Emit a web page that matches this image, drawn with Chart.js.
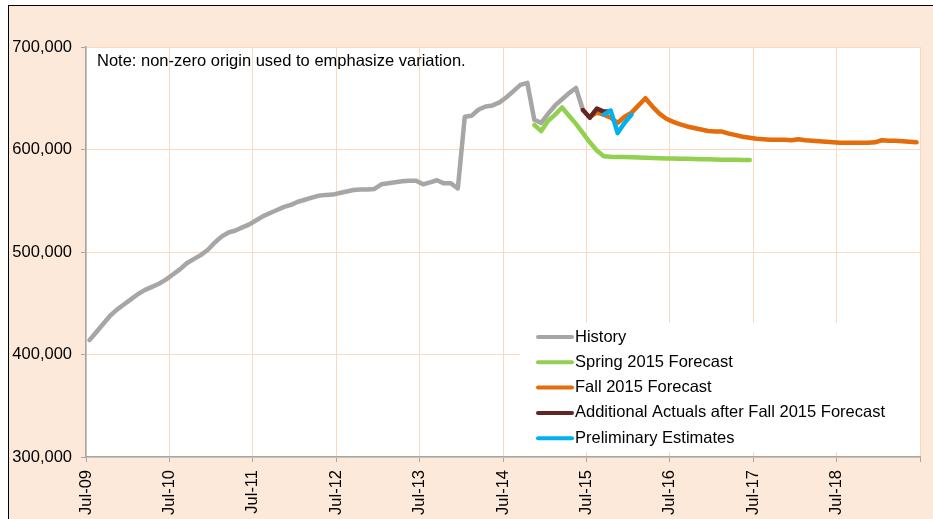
<!DOCTYPE html>
<html>
<head>
<meta charset="utf-8">
<script src="https://cdn.jsdelivr.net/npm/chart.js@4/dist/chart.umd.min.js"></script>
<style>
  html, body { margin: 0; padding: 0; background: #fff; }
  #wrap { position: relative; width: 933px; height: 519px; overflow: hidden; background: #fff; }
  #frame { position: absolute; left: 8px; top: 5px; right: 0; bottom: 0;
           background: #fde9d9; border-left: 1px solid #000; border-top: 1px solid #000; }
  #chart { position: absolute; left: 0; top: 0; }
</style>
</head>
<body>
<div id="wrap">
  <div id="frame"></div>
  <canvas id="chart" width="933" height="519"></canvas>
</div>
<script>
// months counted from Jul-09 (0 = Jul-09)
const xTickLabels = ['Jul-09', 'Jul-10', 'Jul-11', 'Jul-12', 'Jul-13', 'Jul-14', 'Jul-15', 'Jul-16', 'Jul-17', 'Jul-18'];
const yTicks = [300000, 400000, 500000, 600000, 700000];

const seriesNames = ['History', 'Spring 2015 Forecast', 'Fall 2015 Forecast',
    'Additional Actuals after Fall 2015 Forecast', 'Preliminary Estimates'];

// History: Jul-09 .. Jun-15
const historyStart = 0;
const history = [
    414000, 422000, 430000, 438000, 444000, 449000, 454000, 459000, 463000, 466000,
    469000, 473000, 478000, 483000, 489000, 493000, 497000, 502000, 509000, 515000,
    519000, 521000, 524000, 527000, 531000, 535000, 538000, 541000, 544000, 546000,
    549000, 551000, 553000, 555000, 555500, 556000, 557500, 559000, 560500, 561000,
    561000, 561500, 566000, 567000, 568000, 569000, 569500, 569500, 566000, 568000,
    570000, 567000, 567000, 562000, 632000, 633000, 639000, 642000, 643000, 646000,
    651000, 657000, 663000, 665000, 629000, 626000, 635000, 643000, 649000, 655000,
    660000, 638500
];

// Spring 2015 Forecast: Nov-14 .. Jun-17
const springStart = 64;
const spring = [
    624000, 618000, 628000, 634000, 641000, 633000, 625000, 616000, 607000, 599000,
    593500, 593000, 592800, 592600, 592400, 592200, 592000, 591800, 591500, 591300,
    591200, 591000, 590900, 590700, 590500, 590400, 590300, 590100, 590000, 589900,
    589800, 589700
];

// Fall 2015 Forecast: Jul-15 .. Jun-19
const fallStart = 72;
const fall = [
    632000, 636000, 634000, 631000, 626000, 632000, 636000, 643000, 650000, 642000,
    635000, 630000, 627000, 624500, 622500, 621000, 619500, 618000, 617500, 617500,
    615500, 614000, 612500, 611500, 610500, 610000, 609500, 609500, 609500, 609000,
    610000, 609000, 608500, 608000, 607500, 607000, 606500, 606500, 606500, 606500,
    606500, 607000, 609000, 608500, 608500, 608000, 607500, 607000
];

// Additional actuals: Jun-15 .. Oct-15
const actualsStart = 71;
const actuals = [638500, 631000, 640000, 637000, 637000];

// Preliminary estimates: Sep-15 .. Jan-16
const prelimStart = 74;
const prelim = [634000, 638000, 616000, 626000, 634000];

const colors = ['#a6a6a6', '#92d050', '#e46c0a', '#632523', '#00b0f0'];

function toPoints(start, values) {
    return values.map(function(v, i) {
        return { x: start + i + 0.5, y: v };
    });
}

const fontFamily = '"Liberation Sans", Arial, sans-serif';
const fontSize = 16.5;

const frameArea = {
    id: 'frameArea',
    beforeDraw: function(chart) {
        const a = chart.chartArea;
        const ctx = chart.ctx;
        ctx.save();
        ctx.fillStyle = '#ffffff';
        ctx.fillRect(a.left, a.top, a.right - a.left, a.bottom - a.top);
        ctx.restore();
    }
};

// note text and the boxed legend inside the plot
const notesAndLegend = {
    id: 'notesAndLegend',
    afterDraw: function(chart) {
        const a = chart.chartArea;
        const ctx = chart.ctx;
        ctx.save();
        ctx.font = fontSize + 'px ' + fontFamily;
        ctx.fillStyle = '#000';
        ctx.textBaseline = 'middle';
        ctx.fillText('Note: non-zero origin used to emphasize variation.', a.left + 11, a.top + 14);

        ctx.fillStyle = '#ffffff';
        ctx.fillRect(520, 323, a.right - 520, 129);

        chart.data.datasets.forEach(function(ds, i) {
            const y = 337 + i * 25.3;
            ctx.strokeStyle = ds.borderColor;
            ctx.lineWidth = 4;
            ctx.lineCap = 'round';
            ctx.beginPath();
            ctx.moveTo(538, y);
            ctx.lineTo(572, y);
            ctx.stroke();
            ctx.fillStyle = '#000';
            ctx.fillText(ds.label, 575, y);
        });
        ctx.restore();
    }
};

// later series sit on top, as in the original
function makeSet(i, start, values) {
    return {
        label: seriesNames[i],
        data: toPoints(start, values),
        order: seriesNames.length - i,
        borderColor: colors[i],
        backgroundColor: colors[i],
        borderWidth: 4.5,
        pointRadius: 0,
        tension: 0,
        fill: false,
        borderJoinStyle: 'round',
        borderCapStyle: 'round'
    };
}

new Chart(document.getElementById('chart').getContext('2d'), {
    type: 'line',
    data: {
        datasets: [
            makeSet(0, historyStart, history),
            makeSet(1, springStart, spring),
            makeSet(2, fallStart, fall),
            makeSet(3, actualsStart, actuals),
            makeSet(4, prelimStart, prelim)
        ]
    },
    options: {
        responsive: false,
        animation: false,
        layout: { padding: { top: 47, right: 13, left: 0, bottom: 0 } },
        plugins: {
            legend: { display: false },
            tooltip: { enabled: false }
        },
        scales: {
            x: {
                type: 'linear',
                min: 0,
                max: 120,
                afterFit: function(scale) {
                    scale.height = 62;
                    scale.paddingLeft = 0;
                    scale.paddingRight = 0;
                },
                afterBuildTicks: function(scale) {
                    scale.ticks = [];
                    for (let i = 0; i <= xTickLabels.length; i++) scale.ticks.push({ value: i * 12 });
                },
                ticks: {
                    autoSkip: false,
                    minRotation: 90,
                    maxRotation: 90,
                    padding: 8,
                    color: '#000',
                    font: { family: fontFamily, size: fontSize },
                    callback: function(value) {
                        const lbl = xTickLabels[value / 12];
                        return lbl === undefined ? '' : lbl;
                    }
                },
                grid: { color: '#fcd9bd', lineWidth: 1, tickLength: 5, tickColor: '#a6a6a6' },
                border: { color: '#a6a6a6', width: 1.5 }
            },
            y: {
                min: 300000,
                max: 700000,
                afterFit: function(scale) { scale.width = 86; },
                afterBuildTicks: function(scale) {
                    scale.ticks = yTicks.map(function(v) { return { value: v }; });
                },
                ticks: {
                    padding: 9,
                    color: '#000',
                    font: { family: fontFamily, size: fontSize },
                    callback: function(value) { return value.toLocaleString('en-US'); }
                },
                grid: { color: '#fcd9bd', lineWidth: 1, tickLength: 5, tickColor: '#a6a6a6' },
                border: { color: '#a6a6a6', width: 1.5 }
            }
        }
    },
    plugins: [frameArea, notesAndLegend]
});
</script>
</body>
</html>
